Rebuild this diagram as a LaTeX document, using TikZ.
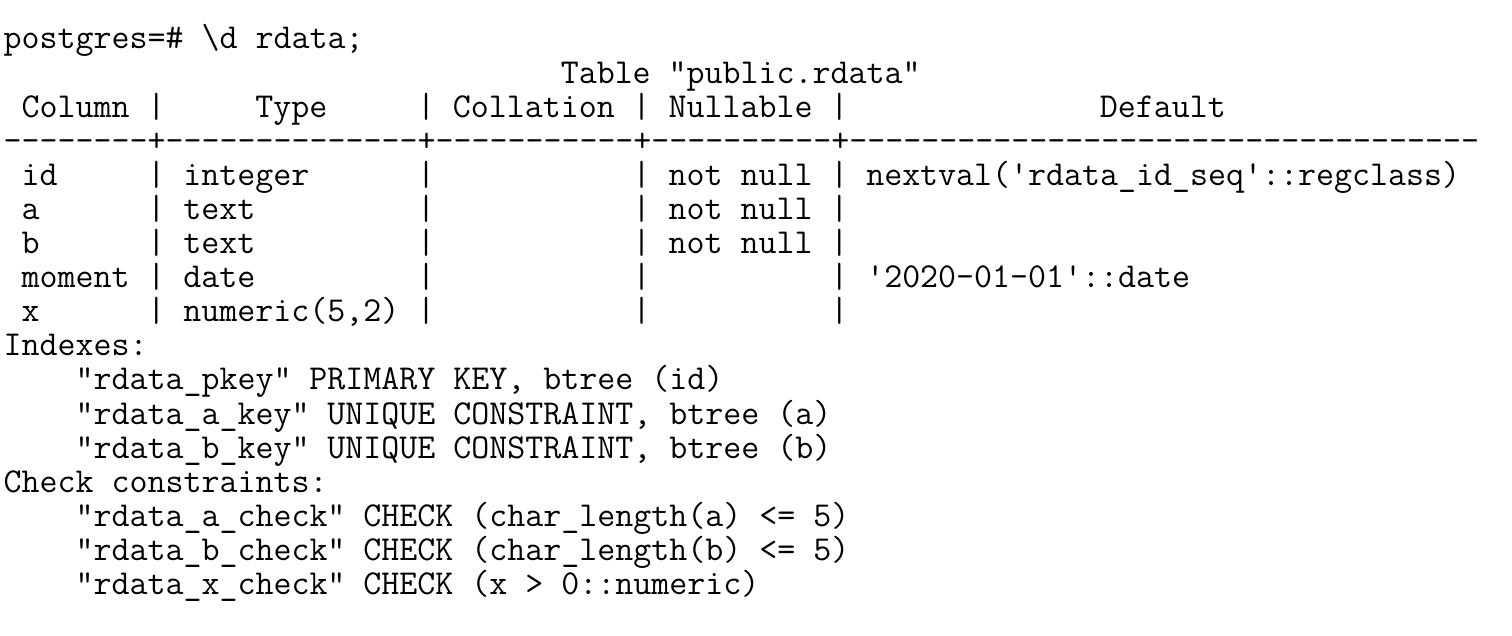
\documentclass[tikz,border=0pt]{standalone}
\newcommand{\hyph}[1]{\foreach \k in {1,...,#1}{-}}
\begin{document}
\begin{tikzpicture}[x=8.985pt, y=17.05pt]

      \tikzset{term/.style={anchor=base west, inner sep=0pt, text=black, font=\ttfamily\fontsize{17.47}{17}\selectfont}}
      \useasboundingbox (-1.65pt,24.5pt) rectangle (754.35pt,-293.5pt);
%% Prompt and title
      	\node[term] (prompt) at (0,0) {postgres=\#{} \textbackslash{}d rdata;};
      	\node[term] (title) at (31,-1) {Table "public.rdata"};
%% Header
      	\node[term] (hcolumn) at (1,-2) {Column};
      	\node[term] (htype) at (14,-2) {Type};
      	\node[term] (hcollation) at (25,-2) {Collation};
      	\node[term] (hnullable) at (37,-2) {Nullable};
      	\node[term] (hdefault) at (61,-2) {Default};
      	\node[term] (rule) at (0,-3) {\hyph{8}+\hyph{14}+\hyph{11}+\hyph{10}+\hyph{35}};
%% Columns
      	\node[term] (cid) at (1,-4) {id};
      	\node[term] (ca) at (1,-5) {a};
      	\node[term] (cb) at (1,-6) {b};
      	\node[term] (cmoment) at (1,-7) {moment};
      	\node[term] (cx) at (1,-8) {x};
      	\node[term] (tid) at (10,-4) {integer};
      	\node[term] (ta) at (10,-5) {text};
      	\node[term] (tb) at (10,-6) {text};
      	\node[term] (tmoment) at (10,-7) {date};
      	\node[term] (tx) at (10,-8) {numeric(5,2)};
      	\node[term] (nid) at (37,-4) {not null};
      	\node[term] (na) at (37,-5) {not null};
      	\node[term] (nb) at (37,-6) {not null};
      	\node[term] (did) at (48,-4) {nextval(\textquotesingle rdata\_id\_seq\textquotesingle::regclass)};
      	\node[term] (dmoment) at (48,-7) {\textquotesingle 2020-01-01\textquotesingle::date};
%Bars
      	\foreach \r in {2,4,5,6,7,8}
      	  \foreach \c in {8,23,35,46}
      	    \node[term] (bar-\r-\c) at (\c,-\r) {|};
%% Indexes
      	\node[term] (indexes) at (0,-9) {Indexes:};
      	\node[term] (ipkey) at (4,-10) {"rdata\_pkey" PRIMARY KEY, btree (id)};
      	\node[term] (iakey) at (4,-11) {"rdata\_a\_key" UNIQUE CONSTRAINT, btree (a)};
      	\node[term] (ibkey) at (4,-12) {"rdata\_b\_key" UNIQUE CONSTRAINT, btree (b)};
%% Checks
      	\node[term] (checks) at (0,-13) {Check constraints:};
      	\node[term] (kacheck) at (4,-14) {"rdata\_a\_check" CHECK (char\_length(a) <= 5)};
      	\node[term] (kbcheck) at (4,-15) {"rdata\_b\_check" CHECK (char\_length(b) <= 5)};
      	\node[term] (kxcheck) at (4,-16) {"rdata\_x\_check" CHECK (x > 0::numeric)};

	\end{tikzpicture}
\end{document}
